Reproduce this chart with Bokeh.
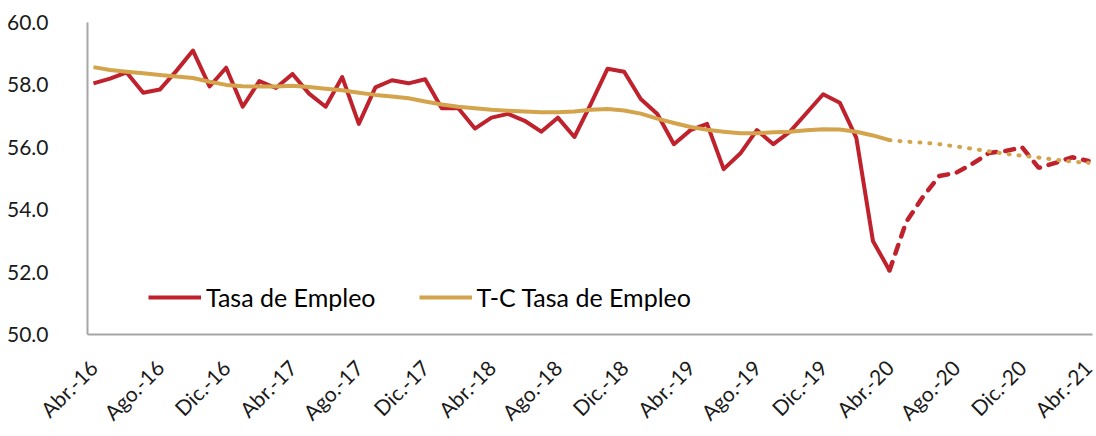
from bokeh.plotting import figure
from bokeh.models import FixedTicker, NumeralTickFormatter, Legend, LegendItem, Range1d
from bokeh.embed import file_html
from bokeh.resources import INLINE

tick_labels = ["Abr.-16", "Ago.-16", "Dic.-16", "Abr.-17", "Ago.-17", "Dic.-17",
               "Abr.-18", "Ago.-18", "Dic.-18", "Abr.-19", "Ago.-19", "Dic.-19",
               "Abr.-20", "Ago.-20", "Dic.-20", "Abr.-21"]

# Monthly index: 0 = Abr.-16 ... 60 = Abr.-21
tasa_empleo = [58.05, 58.2, 58.4, 57.75, 57.85, 58.45, 59.1, 57.95, 58.55, 57.3,
               58.12, 57.9, 58.35, 57.72, 57.3, 58.25, 56.75, 57.92, 58.15, 58.05,
               58.18, 57.25, 57.25, 56.6, 56.95, 57.07, 56.85, 56.5, 56.95, 56.33,
               57.4, 58.52, 58.42, 57.55, 57.07, 56.1, 56.55, 56.75, 55.3, 55.8,
               56.55, 56.1, 56.5, 57.1, 57.7, 57.43, 56.3, 53.0, 52.05, 53.6,
               54.4, 55.08, 55.18, 55.47, 55.82, 55.88, 56.0, 55.34, 55.5, 55.68,
               55.56]
tc_tasa_empleo = [58.57, 58.48, 58.42, 58.37, 58.32, 58.27, 58.22, 58.1, 58.0, 57.96,
                  57.95, 57.95, 57.97, 57.93, 57.88, 57.83, 57.75, 57.68, 57.63, 57.57,
                  57.47, 57.37, 57.3, 57.25, 57.2, 57.17, 57.15, 57.12, 57.12, 57.15,
                  57.2, 57.23, 57.18, 57.08, 56.92, 56.78, 56.65, 56.56, 56.5, 56.45,
                  56.45, 56.48, 56.5, 56.55, 56.58, 56.57, 56.5, 56.38, 56.23, 56.18,
                  56.15, 56.1, 56.03, 55.95, 55.87, 55.79, 55.73, 55.67, 55.6, 55.54,
                  55.5]
split = 48  # Abr.-20: observed data ends, projection begins

x = list(range(len(tasa_empleo)))
RED = "#C0222D"
GOLD = "#D4A44C"
FONT = "Lato"

p = figure(width=1096, height=436, output_backend="svg", toolbar_location=None,
           min_border_left=87, min_border_right=4, min_border_top=22, min_border_bottom=95,
           x_range=Range1d(-0.36, 60.24), y_range=Range1d(50, 60))
p.outline_line_color = None
p.xgrid.visible = False
p.ygrid.visible = False

r_red = p.line(x[:split + 1], tasa_empleo[:split + 1], line_color=RED, line_width=4, line_join="round")
p.line(x[split:], tasa_empleo[split:], line_color=RED, line_width=4.5, line_dash="9 9", line_cap="round")
r_gold = p.line(x[:split + 1], tc_tasa_empleo[:split + 1], line_color=GOLD, line_width=4, line_join="round")
p.line(x[split:], tc_tasa_empleo[split:], line_color=GOLD, line_width=4, line_dash="1 9", line_cap="round")

p.yaxis.ticker = FixedTicker(ticks=[50, 52, 54, 56, 58, 60])
p.yaxis.formatter = NumeralTickFormatter(format="0.0")
p.xaxis.ticker = FixedTicker(ticks=[i * 4 for i in range(len(tick_labels))])
p.xaxis.major_label_overrides = {i * 4: lab for i, lab in enumerate(tick_labels)}
p.xaxis.major_label_orientation = 0.785398

for ax in (p.xaxis, p.yaxis):
    ax.axis_line_color = "#A6A6A6"
    ax.axis_line_width = 2
    ax.major_tick_line_color = None
    ax.minor_tick_line_color = None
    ax.major_label_text_font = FONT
    ax.major_label_text_color = "#1A1A1A"
p.yaxis.major_label_text_font_size = "21px"
p.yaxis.major_label_standoff = 33
p.xaxis.major_label_text_font_size = "21px"
p.xaxis.major_label_standoff = 23

legend = Legend(items=[LegendItem(label="Tasa de Empleo", renderers=[r_red]),
                       LegendItem(label="T-C Tasa de Empleo", renderers=[r_gold])],
                orientation="horizontal", location=(61, 22), border_line_color=None,
                background_fill_alpha=0, padding=0, margin=0, spacing=43,
                glyph_width=53, glyph_height=20, label_standoff=5, label_height=20,
                label_text_font=FONT, label_text_font_size="25px", label_text_color="#000000")
p.add_layout(legend)

open("out.html", "w").write(file_html(p, INLINE))
